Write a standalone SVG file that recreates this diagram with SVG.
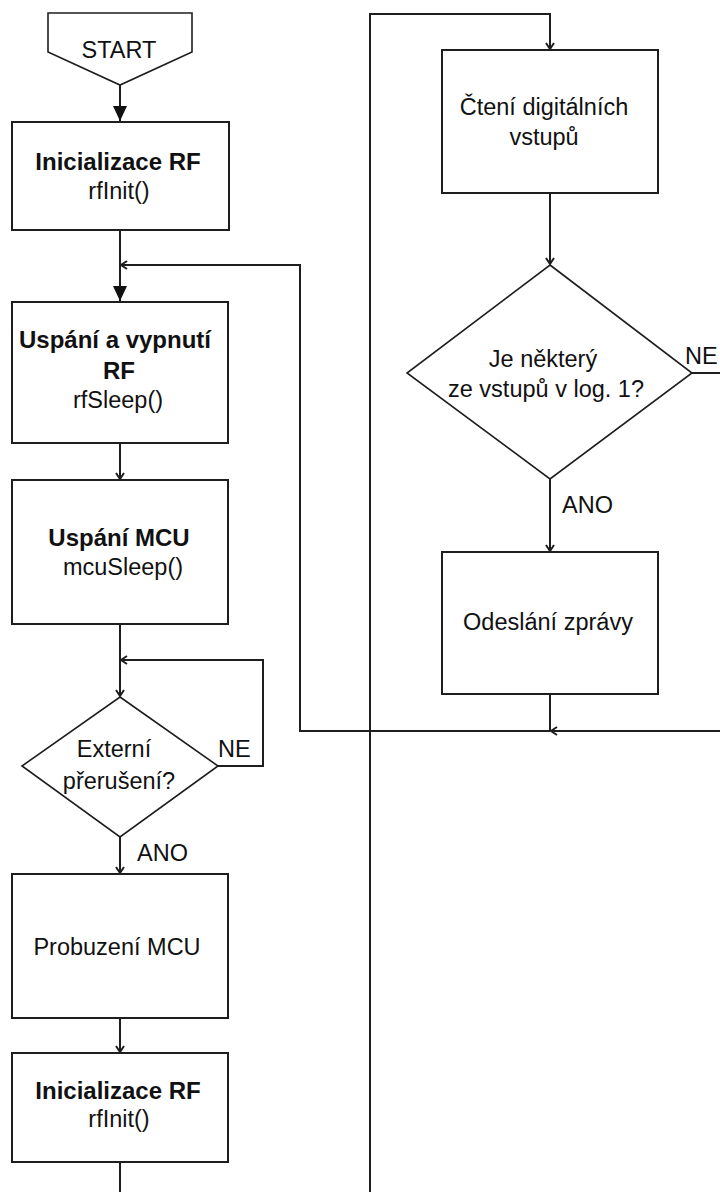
<svg xmlns="http://www.w3.org/2000/svg" width="720" height="1192" viewBox="0 0 720 1192">
  <style>
    .shape { fill: #ffffff; stroke: #1e1e1e; stroke-width: 2; }
    .dia { fill: #ffffff; stroke: #1e1e1e; stroke-width: 1.6; }
    .wire { fill: none; stroke: #1e1e1e; stroke-width: 2; }
    .t { font-family: "Liberation Sans", Arial, sans-serif; font-size: 23.5px; fill: #111111; text-anchor: middle; }
    .b { font-weight: bold; font-size: 24px; }
    .lbl { font-family: "Liberation Sans", Arial, sans-serif; font-size: 23.5px; fill: #111111; }
  </style>
  <defs>
    <marker id="open" markerUnits="userSpaceOnUse" markerWidth="12" markerHeight="12" refX="7" refY="5" orient="auto">
      <path d="M1,1 L7,5 L1,9" fill="none" stroke="#1e1e1e" stroke-width="2"/>
    </marker>
    <marker id="block" markerUnits="userSpaceOnUse" markerWidth="18" markerHeight="18" refX="15" refY="7" orient="auto">
      <path d="M0,0 L15,7 L0,14 Z" fill="#111111"/>
    </marker>
  </defs>

  <!-- connectors -->
  <g id="connectors">
    <path class="wire" d="M120,85 V121" marker-end="url(#block)"/>
    <path class="wire" d="M120,230 V301" marker-end="url(#block)"/>
    <path class="wire" d="M550,731 H300 V265 H121" marker-end="url(#open)"/>
    <path class="wire" d="M120,443 V479" marker-end="url(#open)"/>
    <path class="wire" d="M120,624 V696" marker-end="url(#open)"/>
    <path class="wire" d="M218,766 H263 V660 H121" marker-end="url(#open)"/>
    <path class="wire" d="M120,837 V873" marker-end="url(#open)"/>
    <path class="wire" d="M120,1018 V1052" marker-end="url(#open)"/>
    <path class="wire" d="M120,1162 V1192"/>
    <path class="wire" d="M370,1192 V14 H550 V49" marker-end="url(#open)"/>
    <path class="wire" d="M550,193 V264" marker-end="url(#open)"/>
    <path class="wire" d="M692,373 H720"/>
    <path class="wire" d="M550,479 V551" marker-end="url(#open)"/>
    <path class="wire" d="M550,694 V731"/>
    <path class="wire" d="M720,731 H551" marker-end="url(#open)"/>
  </g>

  <g id="start">
    <polygon class="dia" points="48,13 192,13 192,52 120,85 48,52"/>
    <text class="t" x="119" y="58">START</text>
  </g>

  <g id="init-rf">
    <rect class="shape" x="12" y="122" width="217" height="108"/>
    <text class="t b" x="118" y="170">Inicializace RF</text>
    <text class="t" x="119" y="199">rfInit()</text>
  </g>

  <g id="rf-sleep">
    <rect class="shape" x="12" y="302" width="216" height="141"/>
    <text class="t b" x="115" y="348">Uspání a vypnutí</text>
    <text class="t b" x="119" y="379">RF</text>
    <text class="t" x="118" y="408">rfSleep()</text>
  </g>

  <g id="mcu-sleep">
    <rect class="shape" x="12" y="480" width="216" height="144"/>
    <text class="t b" x="119" y="546">Uspání MCU</text>
    <text class="t" x="123" y="575">mcuSleep()</text>
  </g>

  <g id="ext-irq">
    <polygon class="dia" points="120,697 218,766 120,837 22,766"/>
    <text class="t" x="114" y="757">Externí</text>
    <text class="t" x="119" y="789">přerušení?</text>
    <text class="lbl" x="218" y="757">NE</text>
    <text class="lbl" x="137" y="861">ANO</text>
  </g>

  <g id="wake-mcu">
    <rect class="shape" x="12" y="874" width="216" height="144"/>
    <text class="t" x="117" y="955">Probuzení MCU</text>
  </g>

  <g id="init-rf-2">
    <rect class="shape" x="12" y="1053" width="216" height="109"/>
    <text class="t b" x="118" y="1099">Inicializace RF</text>
    <text class="t" x="119" y="1127">rfInit()</text>
  </g>

  <g id="read-inputs">
    <rect class="shape" x="442" y="50" width="216" height="143"/>
    <text class="t" x="544" y="115">Čtení digitálních</text>
    <text class="t" x="544" y="145">vstupů</text>
  </g>

  <g id="any-input">
    <polygon class="dia" points="550,265 692,373 550,479 407,373"/>
    <text class="t" x="543" y="367">Je některý</text>
    <text class="t" x="546" y="397">ze vstupů v log. 1?</text>
    <text class="lbl" x="685" y="364">NE</text>
    <text class="lbl" x="562" y="513">ANO</text>
  </g>

  <g id="send-msg">
    <rect class="shape" x="442" y="552" width="216" height="142"/>
    <text class="t" x="548" y="630">Odeslání zprávy</text>
  </g>
</svg>
